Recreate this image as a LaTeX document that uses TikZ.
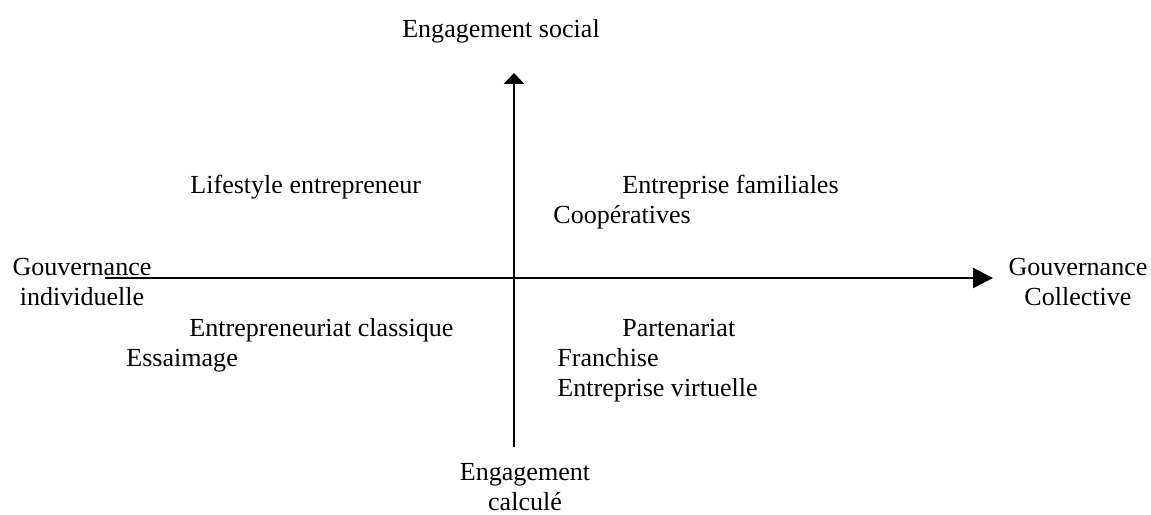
\documentclass[tikz,border=0pt]{standalone}
\usepackage{fontspec}
\setmainfont{Liberation Serif}
\usetikzlibrary{arrows.meta}
\tikzset{
  lbl/.style={inner sep=0pt, anchor=base west, font=\fontsize{12}{13.8}\selectfont},
  axlbl/.style={inner sep=0pt, anchor=base, align=center, font=\fontsize{12}{13.8}\selectfont},
  axis/.style={line width=1pt}
}
\begin{document}
\begin{tikzpicture}[x=0.4608pt, y=-0.4608pt]
  \useasboundingbox (0,0) rectangle (1151,514);
  % Axes
  \coordinate (W) at (105,278);
  \coordinate (E) at (993,278);
  \coordinate (S) at (514,447);
  \coordinate (N) at (514,73);
  \draw [axis, -{Triangle[length=9.2pt,width=9.2pt]}] (W) -- (E);
  \draw [axis, -{Triangle[length=5pt,width=9.2pt]}] (S) -- (N);

  % Axis labels
  \node[axlbl] (social) at (501,37) {Engagement social};
  \node[axlbl] (indiv) at (82,305) {Gouvernance\\individuelle};
  \node[axlbl] (coll) at (1078,305) {Gouvernance\\Collective};
  \node[axlbl] (calc) at (525,510) {Engagement\\calculé};

  % Quadrants
  \node[lbl] (life) at (190,193) {Lifestyle entrepreneur};
  \node[lbl] (fam) at (622,193) {Entreprise familiales};
  \node[lbl] (coop) at (553,223) {Coopératives};
  \node[lbl] (class) at (189,336) {Entrepreneuriat classique};
  \node[lbl] (essai) at (126,366) {Essaimage};
  \node[lbl] (part) at (622,336) {Partenariat};
  \node[lbl] (franch) at (557,366) {Franchise};
  \node[lbl] (virt) at (557,396) {Entreprise virtuelle};
\end{tikzpicture}
\end{document}
